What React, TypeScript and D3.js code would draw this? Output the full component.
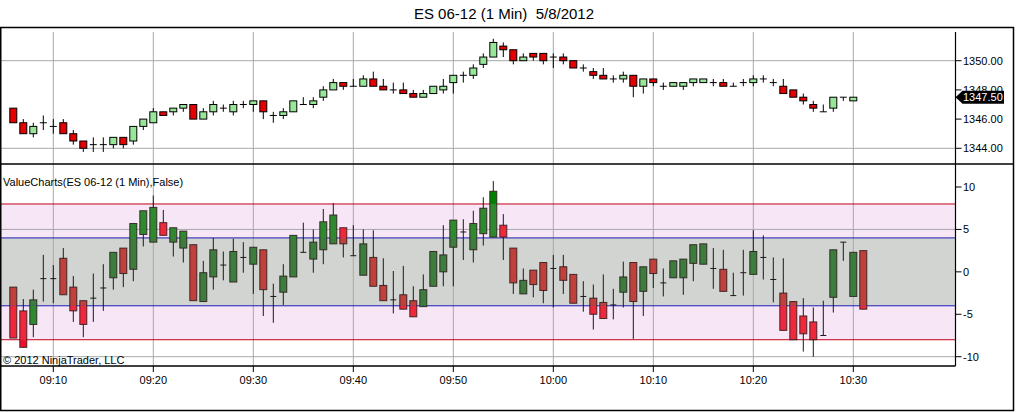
import React, { FC, useMemo } from "react";
import * as d3 from "d3";

// ES 06-12, 1 minute bars, 5/8/2012 09:06 - 10:30
const priceOpen = [
    1346.75, 1345.75, 1345.0, 1345.75, 1345.5, 1345.75, 1345.0, 1344.5, 1344.25, 1344.25,
    1344.25, 1344.75, 1344.5, 1345.5, 1345.75, 1346.5, 1346.5, 1346.75, 1347.0, 1346.0,
    1346.5, 1346.75, 1346.5, 1347.0, 1347.0, 1347.25, 1346.25, 1346.25, 1346.5, 1347.0,
    1347.0, 1347.5, 1348.0, 1348.5, 1348.25, 1348.25, 1348.75, 1348.25, 1348.0, 1348.0,
    1347.75, 1347.5, 1347.75, 1348.0, 1348.5, 1349.0, 1349.0, 1349.75, 1350.25, 1351.0,
    1350.75, 1350.0, 1350.5, 1350.5, 1350.25, 1350.25, 1350.0, 1349.5, 1349.25, 1349.0,
    1348.75, 1348.75, 1349.0, 1348.25, 1348.75, 1348.25, 1348.25, 1348.25, 1348.5, 1348.5,
    1348.5, 1348.5, 1348.25, 1348.5, 1348.5, 1348.75, 1348.5, 1348.25, 1348.0, 1347.5,
    1347.0, 1346.5, 1346.75, 1347.5, 1347.25,
];
const priceHigh = [
    1346.75, 1346.0, 1345.75, 1346.25, 1346.0, 1346.0, 1345.25, 1344.5, 1344.75, 1344.75,
    1344.75, 1344.75, 1345.5, 1346.0, 1346.75, 1346.5, 1346.75, 1347.0, 1347.0, 1346.75,
    1347.25, 1347.0, 1347.25, 1347.25, 1347.25, 1347.25, 1346.5, 1346.75, 1347.25, 1347.5,
    1347.5, 1348.25, 1348.75, 1348.5, 1348.75, 1349.0, 1349.25, 1348.75, 1348.5, 1348.5,
    1348.0, 1348.0, 1348.25, 1348.75, 1349.0, 1349.25, 1349.75, 1350.5, 1351.5, 1351.25,
    1350.75, 1350.5, 1350.5, 1350.5, 1350.5, 1350.5, 1350.0, 1349.75, 1349.5, 1349.5,
    1349.0, 1349.25, 1349.0, 1348.75, 1348.75, 1348.5, 1348.5, 1348.5, 1348.75, 1348.75,
    1348.75, 1348.75, 1348.5, 1348.75, 1349.0, 1349.0, 1348.75, 1348.75, 1348.0, 1347.75,
    1347.25, 1347.0, 1347.5, 1347.5, 1347.5,
];
const priceLow = [
    1345.75, 1345.0, 1344.75, 1345.25, 1345.0, 1345.0, 1344.25, 1343.75, 1343.75, 1343.75,
    1344.0, 1344.0, 1344.25, 1345.25, 1345.75, 1346.25, 1346.25, 1346.5, 1346.0, 1346.0,
    1346.25, 1346.5, 1346.25, 1346.75, 1346.5, 1346.0, 1345.75, 1346.0, 1346.5, 1347.0,
    1346.75, 1347.25, 1348.0, 1348.0, 1348.25, 1348.25, 1348.25, 1348.0, 1347.75, 1347.75,
    1347.5, 1347.5, 1347.75, 1347.75, 1347.75, 1348.5, 1348.75, 1349.5, 1350.25, 1350.25,
    1349.75, 1350.0, 1350.0, 1349.75, 1349.5, 1349.75, 1349.5, 1349.25, 1348.75, 1348.75,
    1348.5, 1348.5, 1347.5, 1347.75, 1348.25, 1348.0, 1348.25, 1348.0, 1348.25, 1348.5,
    1348.25, 1348.25, 1348.25, 1348.25, 1348.25, 1348.5, 1348.25, 1347.75, 1347.5, 1347.0,
    1346.5, 1346.5, 1346.5, 1347.25, 1347.25,
];
const priceClose = [
    1345.75, 1345.0, 1345.5, 1345.75, 1345.5, 1345.0, 1344.5, 1344.0, 1344.25, 1344.25,
    1344.75, 1344.25, 1345.5, 1346.0, 1346.5, 1346.25, 1346.75, 1347.0, 1346.0, 1346.5,
    1347.0, 1346.75, 1347.0, 1347.0, 1347.25, 1346.5, 1346.25, 1346.5, 1347.25, 1347.0,
    1347.25, 1348.0, 1348.5, 1348.25, 1348.25, 1348.75, 1348.25, 1348.0, 1348.0, 1347.75,
    1347.5, 1347.75, 1348.25, 1348.25, 1349.0, 1349.0, 1349.5, 1350.25, 1351.25, 1350.75,
    1350.0, 1350.25, 1350.25, 1350.0, 1350.25, 1350.0, 1349.5, 1349.5, 1349.0, 1348.75,
    1348.75, 1349.0, 1348.25, 1348.75, 1348.5, 1348.25, 1348.5, 1348.5, 1348.75, 1348.75,
    1348.5, 1348.25, 1348.25, 1348.5, 1348.75, 1348.75, 1348.5, 1347.75, 1347.5, 1347.25,
    1346.75, 1346.5, 1347.5, 1347.5, 1347.5,
];

// ValueCharts(ES 06-12 (1 Min),False), 09:06 - 10:31
const vcOpen = [
    -1.8, -4.6, -6.2, -0.8, -0.8, 1.6, -1.8, -3.4, -3.1, -1.9,
    -0.7, 2.8, 0.3, 4.4, 3.5, 5.8, 3.5, 2.8, 3.2, -3.5,
    -0.6, 0.8, -1.2, 1.7, 0.9, 2.6, -2.9, -2.4, -0.6, 2.3,
    1.5, 2.6, 3.3, 5.2, 1.9, -0.4, 1.7, -1.6, -3.3, -2.7,
    -3.4, -4.1, -1.7, 0.0, 2.9, 4.7, 2.6, 4.5, 4.1, 5.5,
    2.8, -2.6, 0.2, 1.1, 0.4, 0.6, -0.3, -2.9, -3.1, -3.6,
    -3.9, -2.4, 1.1, -2.3, 1.5, -1.3, -0.7, -0.7, 1.0, 0.9,
    0.4, 0.3, -2.8, -0.1, -0.3, 1.7, -0.9, -2.5, -3.5, -5.2,
    -5.9, -7.5, -3.0, 3.5, -2.9, 2.5,
];
const vcHigh = [
    -1.8, -3.2, -2.1, 2.0, 0.8, 2.8, -0.5, -3.4, -0.2, 0.9,
    2.3, 2.8, 5.7, 7.2, 9.0, 7.3, 5.2, 4.8, 3.2, 1.3,
    4.0, 2.4, 3.9, 3.5, 2.9, 2.6, -1.4, 0.9, 4.3, 5.8,
    5.0, 7.4, 8.1, 5.2, 5.5, 5.0, 4.9, 1.6, 0.1, 0.7,
    -1.7, -0.3, 2.4, 5.5, 6.1, 6.2, 7.2, 8.8, 10.7, 6.8,
    2.8, 0.4, 0.2, 1.1, 2.0, 2.0, -0.3, -1.1, -1.5, -0.3,
    -2.0, 1.2, 1.1, 0.6, 1.5, 0.4, 1.3, 1.5, 3.2, 3.3,
    2.8, 2.6, -0.1, 2.6, 4.9, 4.3, 1.7, 1.6, -3.5, -3.1,
    -4.2, -3.4, 2.6, 3.5, 2.3, 2.5,
];
const vcLow = [
    -7.8, -8.9, -7.7, -3.5, -3.7, -2.7, -5.9, -7.7, -5.9, -4.6,
    -2.1, -1.8, -1.1, 3.0, 3.5, 4.3, 1.8, 1.1, -3.4, -3.5,
    -2.1, -1.0, -1.2, -0.1, -2.6, -5.2, -6.0, -3.9, -0.6, 2.3,
    -0.1, 0.9, 3.3, 1.7, 1.9, -0.4, -1.7, -3.4, -4.9, -4.4,
    -5.3, -4.1, -1.7, -1.7, -1.7, 1.4, 1.1, 3.1, 4.1, 1.4,
    -2.6, -2.6, -3.0, -3.7, -4.2, -2.6, -3.7, -4.7, -6.8, -5.5,
    -5.6, -4.2, -7.9, -5.2, -1.9, -2.9, -0.7, -2.7, -1.1, 0.9,
    -2.0, -2.3, -2.8, -2.8, -0.3, -0.9, -3.6, -6.9, -8.0, -9.4,
    -10.0, -7.5, -4.8, 1.3, -2.9, -4.4,
];
const vcClose = [
    -7.8, -8.9, -3.3, -0.8, -0.8, -2.7, -4.6, -6.2, -3.1, -1.9,
    2.3, -0.2, 5.7, 7.2, 7.6, 4.3, 5.2, 4.8, -3.4, -0.1,
    2.6, 0.8, 2.4, 1.7, 2.9, -2.1, -2.9, -0.5, 4.3, 2.3,
    3.5, 5.9, 6.7, 3.3, 1.9, 3.3, -1.7, -3.4, -3.3, -4.4,
    -5.3, -2.1, 2.4, 2.0, 6.1, 4.7, 5.7, 7.5, 9.5, 4.1,
    -1.3, -1.0, -1.5, -2.2, 0.4, -1.0, -3.7, -2.9, -5.0, -5.5,
    -3.9, -0.6, -3.5, 0.6, -0.2, -1.3, 1.3, 1.5, 3.2, 3.3,
    0.4, -2.3, -2.8, -0.1, 2.4, 1.7, -0.9, -6.9, -8.0, -7.3,
    -8.0, -7.5, 2.6, 3.5, 2.3, -4.4,
];

const priceTicks = [1344, 1346, 1348, 1350];
const priceGrid = [1344, 1350];
const vcTicks = [10, 5, 0, -5, -10];
const vcGrid = [5, -10];
const vcInner = 4; // blue lines
const vcOuter = 8; // red lines

const title = "ES 06-12 (1 Min)  5/8/2012";
const indicatorLabel = "ValueCharts(ES 06-12 (1 Min),False)";
const copyright = "© 2012 NinjaTrader, LLC";

const startTime = new Date(2012, 4, 8, 9, 6);

const W = 1016;
const H = 412;
const FONT = "'Liberation Sans', Arial, sans-serif";
const plotRight = 955.5;
const frameTop = 27.5;
const sepY = 164;
const plotBottom = 366;
const frameBottom = 410.5;
const frameRight = 1013.5;
const bodyW = 7;

// body colours of the oscillator bars per zone
const zoneColors = {
    outer: { up: "#008000", down: "#f0102a" },
    pink: { up: "#2f8a2f", down: "#f0283c" },
    grey: { up: "#3c7c3c", down: "#c0403c" },
};

const App: FC = () => {
    const times = useMemo(
        () => vcOpen.map((_, i) => d3.timeMinute.offset(startTime, i)),
        []
    );

    const x = useMemo(
        () =>
            d3
                .scaleTime()
                .domain([startTime, d3.timeMinute.offset(startTime, 85)])
                .range([13.3, 863.3]),
        []
    );
    const yTop = useMemo(() => d3.scaleLinear([1344, 1350], [148.3, 60.7]), []);
    const yBot = useMemo(() => d3.scaleLinear([-10, 10], [356.7, 187]), []);

    const timeTicks = x.ticks(d3.timeMinute.every(10) as any);
    const fmtTime = d3.timeFormat("%H:%M");
    const fmtPrice = d3.format(".2f");

    const lastPrice = priceClose[priceClose.length - 1];
    const markerY = yTop(lastPrice);

    const candles = priceOpen.map((o, i) => ({
        t: times[i],
        o,
        h: priceHigh[i],
        l: priceLow[i],
        c: priceClose[i],
    }));
    const vcBars = vcOpen.map((o, i) => ({
        t: times[i],
        o,
        h: vcHigh[i],
        l: vcLow[i],
        c: vcClose[i],
    }));

    const zoneRects = {
        outer: [
            [sepY, yBot(vcOuter)],
            [yBot(-vcOuter), plotBottom],
        ],
        pink: [
            [yBot(vcOuter), yBot(vcInner)],
            [yBot(-vcInner), yBot(-vcOuter)],
        ],
        grey: [[yBot(vcInner), yBot(-vcInner)]],
    };

    const vcBodies = (zone: keyof typeof zoneColors) =>
        vcBars.map((d, i) => {
            const top = yBot(Math.max(d.o, d.c));
            const bot = yBot(Math.min(d.o, d.c));
            if (bot - top < 1) return null;
            return (
                <rect
                    key={i}
                    x={x(d.t) - bodyW / 2}
                    y={top}
                    width={bodyW}
                    height={bot - top}
                    fill={d.c >= d.o ? zoneColors[zone].up : zoneColors[zone].down}
                />
            );
        });

    return (
        <svg
            width={W}
            height={H}
            style={{ position: "absolute", left: 0, top: 0, background: "#fff" }}
            fontFamily={FONT}
        >
            <defs>
                {(Object.keys(zoneRects) as (keyof typeof zoneRects)[]).map((z) => (
                    <clipPath id={`zone-${z}`} key={z}>
                        {zoneRects[z].map(([y0, y1], j) => (
                            <rect key={j} x={0} y={y0} width={plotRight} height={y1 - y0} />
                        ))}
                    </clipPath>
                ))}
            </defs>

            <text
                x={504}
                y={19}
                textAnchor="middle"
                fontSize={15}
                fill="#000"
                style={{ whiteSpace: "pre" }}
            >
                {title}
            </text>

            {/* bottom panel bands */}
            <rect
                x={0}
                y={yBot(vcOuter)}
                width={plotRight}
                height={yBot(-vcOuter) - yBot(vcOuter)}
                fill="#f6e6f6"
            />
            <rect
                x={0}
                y={yBot(vcInner)}
                width={plotRight}
                height={yBot(-vcInner) - yBot(vcInner)}
                fill="#d1d4d0"
            />

            {/* grid */}
            {timeTicks.map((t) => (
                <g key={+t}>
                    <line x1={x(t)} x2={x(t)} y1={32} y2={sepY} stroke="#a8a8a8" />
                    <line x1={x(t)} x2={x(t)} y1={sepY} y2={plotBottom} stroke="#a8a8a8" />
                    <line x1={x(t)} x2={x(t)} y1={plotBottom} y2={372} stroke="#000" />
                    <text x={x(t)} y={383.5} textAnchor="middle" fontSize={11} fill="#000">
                        {fmtTime(t)}
                    </text>
                </g>
            ))}
            {priceGrid.map((p) => (
                <line key={p} x1={0} x2={plotRight} y1={yTop(p)} y2={yTop(p)} stroke="#a8a8a8" />
            ))}
            {vcGrid.map((v) => (
                <line key={v} x1={0} x2={plotRight} y1={yBot(v)} y2={yBot(v)} stroke="#a8a8a8" />
            ))}

            {/* band lines */}
            {[vcOuter, -vcOuter].map((v) => (
                <line key={`o${v}`} x1={0} x2={plotRight} y1={yBot(v)} y2={yBot(v)} stroke="#c00018" />
            ))}
            {[vcInner, -vcInner].map((v) => (
                <line key={`i${v}`} x1={0} x2={plotRight} y1={yBot(v)} y2={yBot(v)} stroke="#1c1cb8" />
            ))}

            {/* price candles */}
            {candles.map((d, i) => {
                const cx = x(d.t);
                const top = yTop(Math.max(d.o, d.c));
                const bot = yTop(Math.min(d.o, d.c));
                return (
                    <g key={i}>
                        <line x1={cx} x2={cx} y1={yTop(d.h)} y2={yTop(d.l)} stroke="#000" />
                        {d.o === d.c ? (
                            <line x1={cx - bodyW / 2} x2={cx + bodyW / 2} y1={top} y2={top} stroke="#000" />
                        ) : (
                            <rect
                                x={cx - bodyW / 2}
                                y={top}
                                width={bodyW}
                                height={bot - top}
                                fill={d.c > d.o ? "#98e698" : "#e60000"}
                                stroke="#000"
                            />
                        )}
                    </g>
                );
            })}

            {/* value chart bars */}
            {vcBars.map((d, i) => {
                const cx = x(d.t);
                return (
                    <line key={i} x1={cx} x2={cx} y1={yBot(d.h)} y2={yBot(d.l)} stroke="#1a1a1a" />
                );
            })}
            {(Object.keys(zoneColors) as (keyof typeof zoneColors)[]).map((z) => (
                <g key={z} clipPath={`url(#zone-${z})`}>
                    {vcBodies(z)}
                </g>
            ))}
            {vcBars.map((d, i) => {
                const cx = x(d.t);
                const top = yBot(Math.max(d.o, d.c));
                const bot = yBot(Math.min(d.o, d.c));
                return bot - top < 1 ? (
                    <line key={i} x1={cx - 3} x2={cx + 3} y1={top} y2={top} stroke="#1a1a1a" />
                ) : (
                    <rect
                        key={i}
                        x={cx - bodyW / 2}
                        y={top}
                        width={bodyW}
                        height={bot - top}
                        fill="none"
                        stroke="#2a1a1a"
                        strokeOpacity={0.85}
                    />
                );
            })}

            {/* labels inside panels */}
            <text x={3} y={186} fontSize={11} fill="#000">
                {indicatorLabel}
            </text>
            <text x={3} y={363.5} fontSize={11} fill="#000">
                {copyright}
            </text>

            {/* right axes */}
            {priceTicks.map((p) => (
                <g key={p}>
                    <line x1={plotRight} x2={plotRight + 6} y1={yTop(p)} y2={yTop(p)} stroke="#000" />
                    <text x={963} y={yTop(p)} dy="0.35em" fontSize={11} fill="#000">
                        {fmtPrice(p)}
                    </text>
                </g>
            ))}
            {vcTicks.map((v) => (
                <g key={v}>
                    <line x1={plotRight} x2={plotRight + 6} y1={yBot(v)} y2={yBot(v)} stroke="#000" />
                    <text x={963} y={yBot(v)} dy="0.35em" fontSize={11} fill="#000">
                        {v}
                    </text>
                </g>
            ))}

            {/* last price marker */}
            <path
                d={`M${plotRight},${markerY} L${plotRight + 7},${markerY - 6.5} L1004,${markerY - 6.5} L1004,${markerY + 6.5} L${plotRight + 7},${markerY + 6.5} Z`}
                fill="#000"
            />
            <text x={963} y={markerY} dy="0.36em" fontSize={11} fill="#fff">
                {fmtPrice(lastPrice)}
            </text>

            {/* frames */}
            <line x1={plotRight} x2={plotRight} y1={32} y2={plotBottom} stroke="#000" strokeWidth={1.2} />
            <line x1={0} x2={frameRight} y1={sepY} y2={sepY} stroke="#000" strokeWidth={1.5} />
            <line x1={0} x2={plotRight} y1={plotBottom} y2={plotBottom} stroke="#000" strokeWidth={1.5} />
            <rect
                x={0.75}
                y={frameTop}
                width={frameRight - 0.75}
                height={frameBottom - frameTop}
                fill="none"
                stroke="#000"
                strokeWidth={1.5}
            />
        </svg>
    );
};

export default App;
